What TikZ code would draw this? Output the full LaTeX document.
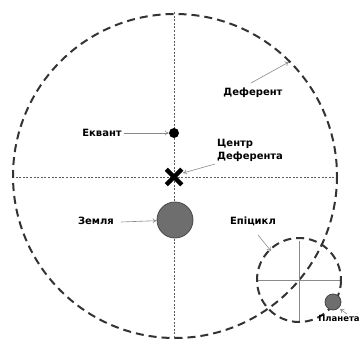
\documentclass[tikz,border=0pt]{standalone}
\usepackage{fontspec}
\setmainfont{DejaVu Sans}
\usetikzlibrary{arrows.meta,shapes.misc}
\definecolor{dk}{HTML}{333333}
\definecolor{gr}{HTML}{6E6E6E}
\definecolor{ln}{HTML}{8A8A8A}
\begin{document}
\begin{tikzpicture}[x=1pt,y=-1pt,
  orbit/.style={draw=dk,line width=2pt,dash pattern=on 8pt off 5pt},
  axis/.style={draw=dk!80,line width=0.5pt,dash pattern=on 2pt off 1.6pt},
  arr/.style={draw=ln,line width=0.6pt,-{To[length=4pt,width=5pt]}},
  lbl/.style={font=\fontsize{10}{13}\selectfont\bfseries,text=black,inner sep=1pt},
  body/.style={circle,draw=dk!90,line width=0.8pt,fill=gr,inner sep=0pt}]
\useasboundingbox (0,0) rectangle (363,339);
% axes
\coordinate (vt) at (174,12);
\coordinate (vb) at (174,339);
\coordinate (hl) at (12,177);
\coordinate (hr) at (336,177);
\draw[axis] (vt) -- (vb);
\draw[axis] (hl) -- (hr);
% deferent
\coordinate (dc) at (175,176);
\draw[orbit] (dc) circle[radius=162];
% epicycle
\coordinate (ec) at (299,280);
\coordinate (eh1) at (257,280);
\coordinate (eh2) at (341,280);
\coordinate (ev1) at (299,241);
\coordinate (ev2) at (299,322);
\draw[ln,line width=1pt] (eh1) -- (eh2);
\draw[ln,line width=1pt] (ev1) -- (ev2);
\draw[orbit] (ec) circle[radius=42];
% bodies
\node[circle,fill=black,inner sep=0pt,minimum size=10pt] (eq) at (174,133) {};
\node[cross out,draw=black,line width=4.5pt,minimum size=11pt,inner sep=0pt] (cdef) at (174,177) {};
\node[body,minimum size=36pt] (earth) at (175,220) {};
\node[body,minimum size=16pt] (planet) at (333,302) {};
% labels
\node[lbl] (tdef) at (253,93) {Деферент};
\node[lbl] (teq) at (102,133) {Еквант};
\node[lbl,align=left,anchor=west] (tcd) at (216,150) {Центр\\Деферента};
\node[lbl] (tea) at (96,221) {Земля};
\node[lbl] (tep) at (253,221) {Епіцикл};
\node[lbl,font=\fontsize{8.5}{10}\selectfont\bfseries] (tpl) at (339,318) {Планета};
% arrow points
\coordinate (pdef) at (289,62);
\coordinate (sdef) at (251,83);
\coordinate (seq) at (124,133);
\coordinate (scd) at (215,164);
\coordinate (pcd) at (183,173);
\coordinate (sea) at (121,222);
\coordinate (sep) at (258,235);
\coordinate (pep) at (271,251);
\coordinate (spl) at (347,314);
\coordinate (ppl) at (340,309);
\draw[arr] (sdef) -- (pdef);
\draw[arr] (seq) -- (eq);
\draw[arr] (scd) -- (pcd);
\draw[arr] (sea) -- (earth);
\draw[arr] (sep) -- (pep);
\draw[arr] (spl) -- (ppl);
\end{tikzpicture}
\end{document}
